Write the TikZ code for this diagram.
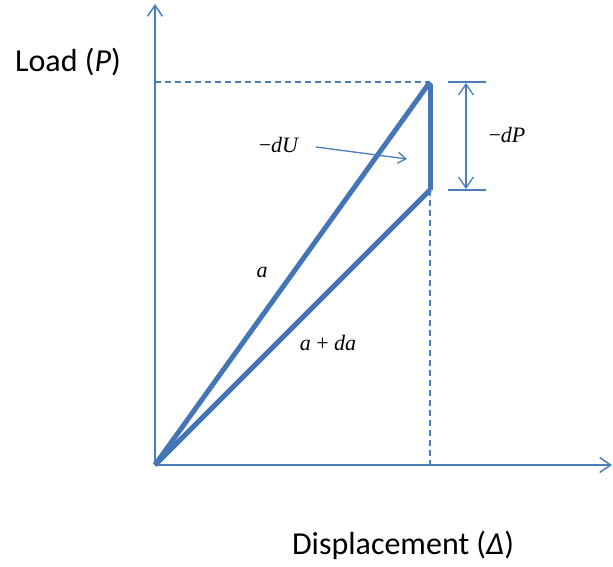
\documentclass[tikz,border=0pt]{standalone}
\usepackage{fontspec}
\setmainfont{Liberation Serif}
\newfontfamily\labelfont{Carlito}
\usetikzlibrary{arrows.meta}
\definecolor{axisblue}{RGB}{74,126,187}
\definecolor{thickblue}{RGB}{68,118,182}
\tikzset{
  axisline/.style={draw=axisblue, line width=1.5pt, -{Straight Barb[length=11pt,width=15pt,line width=1.5pt]}},
  dimline/.style={draw=axisblue, line width=1.3pt},
  dimarrow/.style={draw=axisblue, line width=1.3pt, {Straight Barb[length=11pt,width=15pt,line width=1.3pt]}-{Straight Barb[length=11pt,width=15pt,line width=1.3pt]}},
  guide/.style={draw=axisblue, line width=1.2pt, dash pattern=on 6pt off 4pt},
  curve/.style={draw=thickblue, line width=5pt},
  pointer/.style={draw=axisblue, line width=1.3pt, -{Straight Barb[length=8pt,width=11pt,line width=1.3pt]}},
  mathlbl/.style={font=\fontsize{22}{26}\selectfont, inner sep=0pt},
  axislbl/.style={font=\labelfont\fontsize{32}{38}\selectfont, inner sep=0pt}
}
\begin{document}
\begin{tikzpicture}[x=1pt,y=-1pt]
\useasboundingbox (0,0) rectangle (613,567);
% key points
\coordinate (O) at (155,465);
\coordinate (A) at (430,82);
\coordinate (B) at (430,190);
\coordinate (Ytop) at (155,4);
\coordinate (Xend) at (612,465);
\coordinate (Pleft) at (155,82);
\coordinate (Dbot) at (430,465);
\coordinate (T1l) at (448,82);
\coordinate (T1r) at (486,82);
\coordinate (T2l) at (448,190);
\coordinate (T2r) at (486,190);
\coordinate (D1) at (466,83);
\coordinate (D2) at (466,189);
\coordinate (Us) at (316,147);
\coordinate (Ue) at (407,159);
% axes
\draw[axisline] (O) -- (Ytop);
\draw[axisline] (O) -- (Xend);
% guides
\draw[guide] (Pleft) -- (A);
\draw[guide] (B) -- (Dbot);
% dimension
\draw[dimline] (T1l) -- (T1r);
\draw[dimline] (T2l) -- (T2r);
\draw[dimarrow] (D1) -- (D2);
% thick lines
\draw[curve] (O) -- (A);
\draw[curve] (O) -- (B);
\draw[curve, line cap=butt] ([yshift=-2pt]A) -- (B);
% pointer
\draw[pointer] (Us) -- (Ue);
% labels
\node[mathlbl] (dU) at (279,145) {−\textit{dU}};
\node[mathlbl] (dP) at (507,135) {−\textit{dP}};
\node[mathlbl] (la) at (262,272) {\textit{a}};
\node[mathlbl] (lada) at (328,343) {\textit{a} + \textit{da}};
\node[axislbl] (load) at (68,62) {Load (\textit{P})};
\node[axislbl] (disp) at (403,545) {Displacement (\textit{Δ})};
\end{tikzpicture}
\end{document}
